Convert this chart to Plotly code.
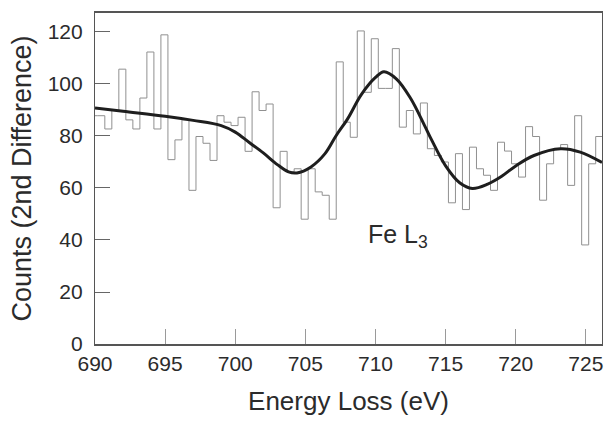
import numpy as np
import plotly.graph_objects as go

# Histogram (2nd difference spectrum), 0.5 eV bins
bin_start = 689.7
bin_width = 0.5
counts = [87.8, 87.8, 82.7, 89.8, 105.7, 86.2, 82.7, 94.6, 112.3, 82.7,
          118.9, 70.9, 78.5, 86.2, 59.1, 79.8, 77.2, 70.6, 87.8, 85.3,
          84.0, 87.2, 74.1, 97.0, 89.8, 92.3, 52.4, 74.1, 66.2, 67.4,
          48.0, 67.4, 58.5, 57.2, 48.0, 108.5, 85.3, 79.5, 120.4, 96.8,
          117.4, 98.3, 98.3, 113.6, 83.4, 89.8, 80.8, 92.7, 75.1, 72.5,
          70.0, 54.3, 73.2, 51.7, 75.7, 67.4, 64.9, 59.1, 77.6, 74.2,
          69.3, 64.2, 83.6, 79.8, 55.3, 69.3, 75.1, 76.7, 61.0, 87.8,
          38.1, 69.3, 79.8]

# Smooth fitted curve
curve_energy = [690.0, 692.0, 695.0, 697.0, 699.0, 700.0, 701.0, 702.0, 703.0,
                703.8, 704.4, 705.4, 706.4, 707.2, 708.0, 709.0, 710.0, 710.6,
                711.5, 712.5, 713.5, 714.0, 715.0, 716.0, 716.9, 718.0, 719.0,
                720.0, 721.3, 723.2, 724.6, 726.15]
curve_counts = [90.8, 89.5, 87.6, 86.0, 84.0, 81.5, 77.5, 73.5, 69.0,
                66.2, 65.8, 68.1, 73.2, 80.2, 86.5, 96.0, 102.5, 104.7,
                101.9, 94.5, 84.0, 78.5, 68.5, 62.0, 59.8, 61.5, 64.5,
                68.5, 72.5, 75.1, 73.8, 69.8]

x_ticks = [690, 695, 700, 705, 710, 715, 720, 725]
y_ticks = [0, 20, 40, 60, 80, 100, 120]

edges = bin_start + bin_width * np.arange(len(counts) + 1)
step_x = list(edges)
step_y = counts + [counts[-1]]

FONT = "Liberation Sans, Arial, Helvetica, sans-serif"
TXT = "#2b2b2b"

fig = go.Figure()
fig.add_trace(go.Scatter(x=step_x, y=step_y, mode="lines", line_shape="hv",
                         line=dict(color="#909090", width=1), hoverinfo="skip",
                         showlegend=False))
fig.add_trace(go.Scatter(x=curve_energy, y=curve_counts, mode="lines",
                         line=dict(color="#1e1e1e", width=3, shape="spline", smoothing=1.0),
                         showlegend=False))

fig.add_annotation(x=711.6, y=41.5, text="Fe L<sub>3</sub>", showarrow=False,
                   font=dict(family=FONT, size=25, color=TXT))

fig.update_layout(
    width=605, height=421,
    margin=dict(l=95, r=3, t=13, b=77),
    paper_bgcolor="white", plot_bgcolor="white",
    font=dict(family=FONT, color=TXT),
    xaxis=dict(range=[690, 726.15], tickvals=x_ticks, ticks="inside", ticklen=15,
               tickcolor="#9a9a9a", tickwidth=1, showgrid=False, zeroline=False,
               showline=True, linecolor="#555555", linewidth=1.5, mirror=True,
               tickfont=dict(size=21, color=TXT), ticklabeloverflow="allow",
               title=dict(text="Energy Loss (eV)", font=dict(size=26, color=TXT), standoff=18)),
    yaxis=dict(range=[0, 127.3], tickvals=y_ticks, ticks="inside", ticklen=15,
               tickcolor="#666666", tickwidth=1, showgrid=False, zeroline=False,
               showline=True, linecolor="#555555", linewidth=1.2, mirror=True,
               tickfont=dict(size=21, color=TXT), ticklabelstandoff=7,
               title=dict(text="Counts (2nd Difference)", font=dict(size=27, color=TXT), standoff=8)),
)

fig.write_html(
    "out.html",
    config={"displayModeBar": False},
    post_script="document.body.style.margin='0';"
                "document.documentElement.style.overflow='hidden';"
                "document.body.style.overflow='hidden';",
)
